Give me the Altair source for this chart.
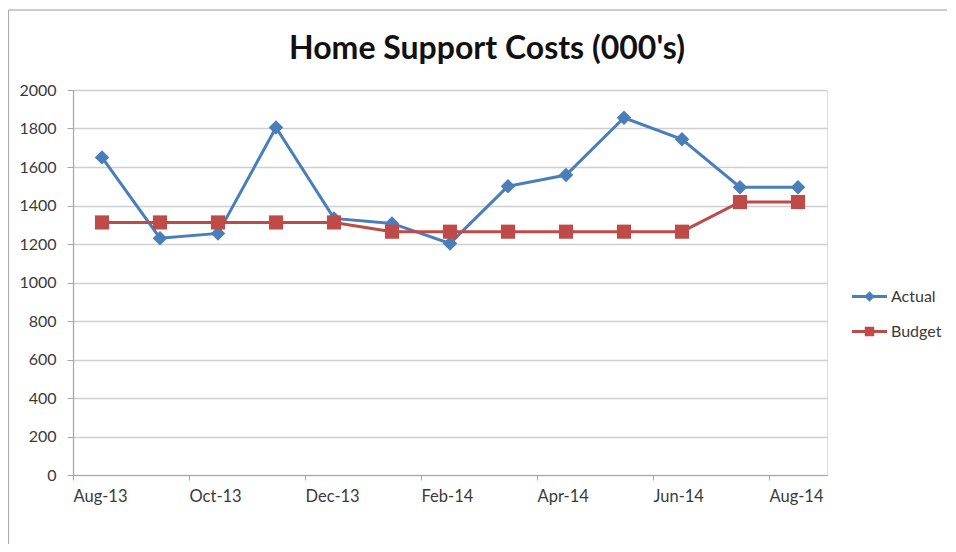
import json
import altair as alt
import pandas as pd

months = ["Aug-13", "Sep-13", "Oct-13", "Nov-13", "Dec-13", "Jan-14", "Feb-14",
          "Mar-14", "Apr-14", "May-14", "Jun-14", "Jul-14", "Aug-14"]
actual = [1650, 1230, 1255, 1805, 1333, 1307, 1203, 1500, 1558, 1856, 1744, 1495, 1495]
budget = [1312, 1312, 1312, 1312, 1312, 1264, 1264, 1264, 1264, 1264, 1264, 1418, 1418]
series_names = ["Actual", "Budget"]
colors = ["#4A7EBB", "#BE4B48"]
y_ticks = list(range(0, 2001, 200))

rows = []
for i, m in enumerate(months):
    rows.append({"idx": i, "month": m, "series": "Actual", "value": actual[i]})
    rows.append({"idx": i, "month": m, "series": "Budget", "value": budget[i]})
df = pd.DataFrame(rows)

FONT = "Lato"
W, H = 754, 385

tick_vals = [i - 0.5 for i in range(0, len(months), 2)]
label_expr = "' ' + %s[datum.value + 0.5]" % json.dumps(months)

x_enc = alt.X(
    "idx:Q",
    scale=alt.Scale(domain=[-0.5, len(months) - 0.5], nice=False, zero=False),
    axis=alt.Axis(
        values=tick_vals, labelExpr=label_expr, title=None, grid=False,
        labelAlign="left", labelFlush=False,
        labelOverlap=False, labelFont=FONT, labelFontSize=16.5, labelColor="#3a3a3a",
        labelPadding=8, tickSize=5, tickColor="#a6a6a6", domainColor="#a6a6a6",
        domainWidth=1.2,
    ),
)
y_enc = alt.Y(
    "value:Q",
    scale=alt.Scale(domain=[0, 2000], nice=False),
    axis=alt.Axis(
        values=y_ticks, format="d", title=None, grid=True, gridColor="#cfcfcf", gridWidth=1.5,
        labelFont=FONT, labelFontSize=16, labelColor="#3a3a3a", labelPadding=11,
        tickSize=6, tickColor="#a6a6a6", domainColor="#a6a6a6", domainWidth=1.2,
    ),
)

base = alt.Chart(df)
shapes = ["diamond", "square"]
sizes = [210, 200]

series_layers = []
for name, col, shp, sz in zip(series_names, colors, shapes, sizes):
    sub = base.transform_filter(alt.datum.series == name)
    series_layers.append(sub.mark_line(strokeWidth=3, color=col).encode(x=x_enc, y=y_enc))
    series_layers.append(
        sub.mark_point(shape=shp, filled=True, size=sz, opacity=1, color=col).encode(x=x_enc, y=y_enc)
    )

legend_paths = [
    "M-1,-0.085H1V0.085H-1Z M0,-0.3L0.3,0L0,0.3L-0.3,0Z",
    "M-1,-0.085H1V0.085H-1Z M-0.27,-0.27H0.27V0.27H-0.27Z",
]
leg = alt.Legend(
    title=None, orient="none", legendX=779, legendY=189,
    symbolSize=1225, symbolOpacity=1, symbolStrokeWidth=0,
    labelFont=FONT, labelFontSize=16, labelColor="#3a3a3a", labelOffset=4,
    rowPadding=9, padding=0,
)

legend_layer = base.mark_point(filled=True, opacity=0).encode(
    x=x_enc, y=y_enc,
    color=alt.Color("series:N", scale=alt.Scale(domain=series_names, range=colors), legend=leg),
    shape=alt.Shape("series:N", scale=alt.Scale(domain=series_names, range=legend_paths), legend=leg),
)

frame_top = alt.Chart(alt.Data(values=[{"a": 1}])).mark_rule(
    stroke="#9a9a9a", strokeWidth=1.2, clip=False
).encode(x=alt.value(-64.5), x2=alt.value(874), y=alt.value(-80))

frame_left = alt.Chart(alt.Data(values=[{"a": 1}])).mark_rule(
    stroke="#b0b0b0", strokeWidth=1.2, clip=False
).encode(x=alt.value(-64.5), y=alt.value(-80), y2=alt.value(600))

chart = alt.layer(frame_top, frame_left, *series_layers, legend_layer).properties(
    width=W, height=H,
    title=alt.TitleParams(
        "Home Support Costs (000's)", font=FONT, fontSize=32, fontWeight="bold",
        color="#111111", anchor="middle", dx=37, offset=-57, frame="group",
    ),
    autosize=alt.AutoSizeParams(type="none"),
    padding={"left": 65, "top": 82, "right": 121, "bottom": 69},
).configure_view(stroke=None).configure(background="white")

chart.save("out.html", embed_options={"renderer": "svg", "actions": False})
